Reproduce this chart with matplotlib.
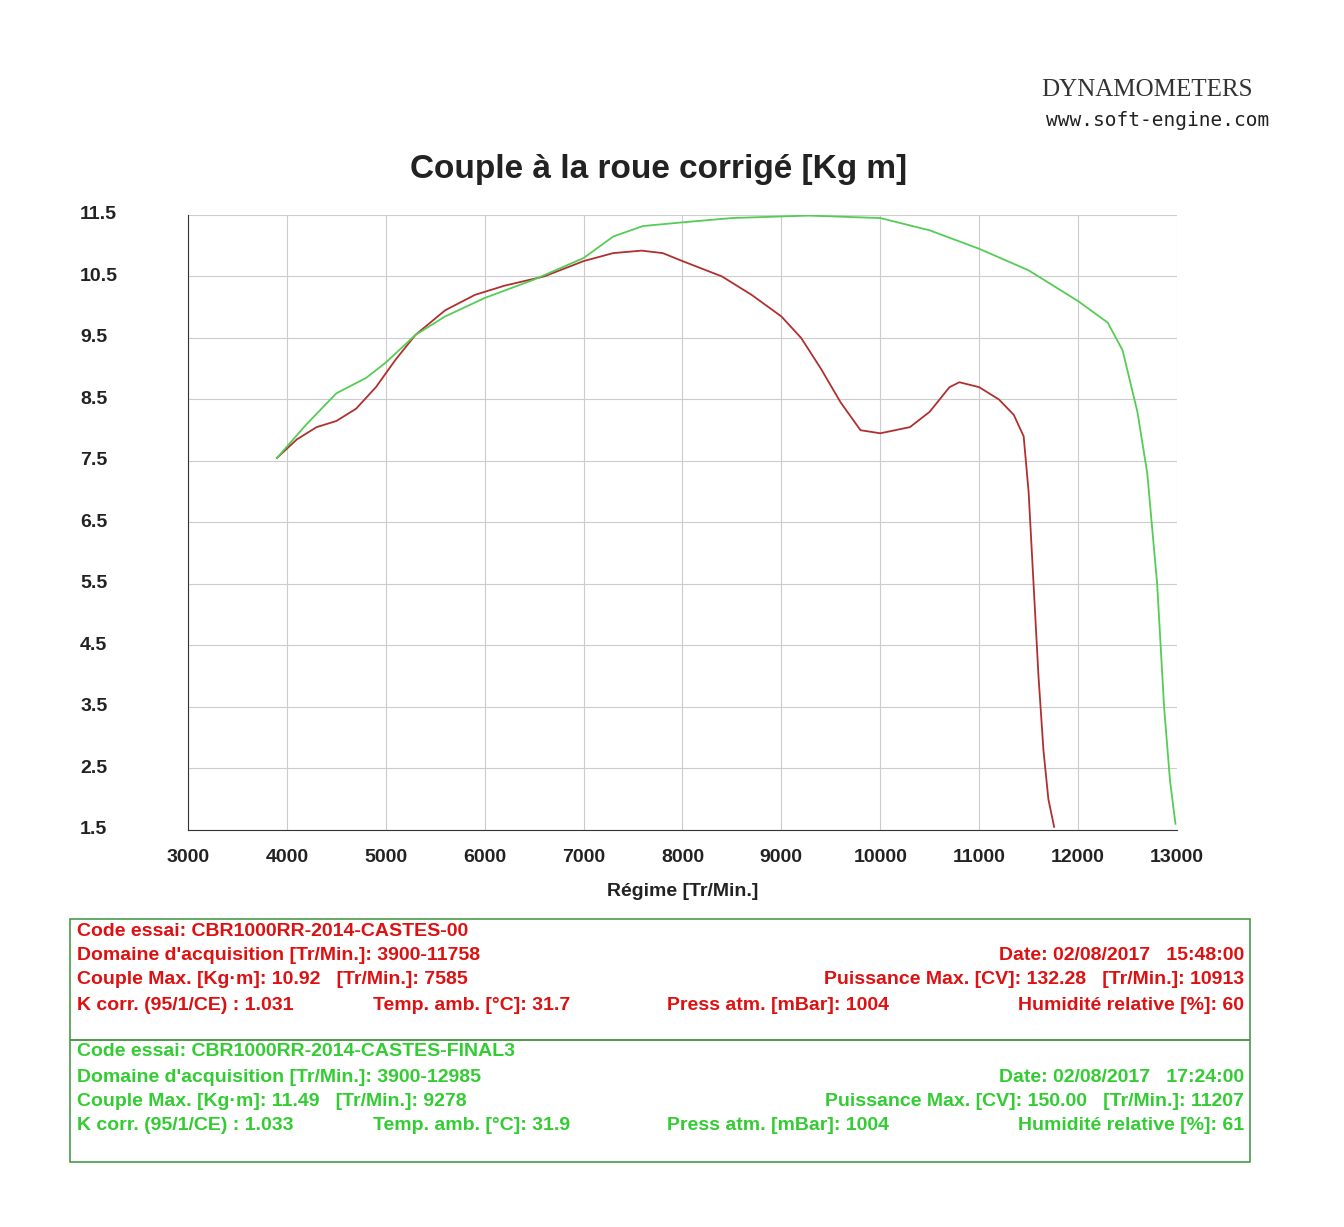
import matplotlib
matplotlib.use("Agg")
import matplotlib.pyplot as plt

red_rpm = [3900,4100,4300,4500,4700,4900,5100,5300,5600,5900,6200,6600,7000,7300,7585,7800,8000,8400,8700,9000,9200,9400,9600,9800,10000,10300,10500,10700,10800,11000,11200,11350,11450,11500,11550,11600,11650,11700,11758]
red_val = [7.55,7.85,8.05,8.15,8.35,8.7,9.15,9.55,9.95,10.2,10.35,10.5,10.75,10.88,10.92,10.88,10.75,10.5,10.2,9.85,9.5,9.0,8.45,8.0,7.95,8.05,8.3,8.7,8.78,8.7,8.5,8.25,7.9,7.0,5.5,4.0,2.8,2.0,1.55]
grn_rpm = [3900,4200,4500,4800,5000,5300,5600,6000,6500,7000,7300,7600,8000,8500,9278,10000,10500,11000,11500,12000,12300,12450,12600,12700,12800,12870,12930,12985]
grn_val = [7.55,8.1,8.6,8.85,9.1,9.55,9.85,10.15,10.45,10.8,11.15,11.32,11.38,11.45,11.49,11.45,11.25,10.95,10.6,10.1,9.75,9.3,8.3,7.3,5.5,3.5,2.3,1.6]
xticks = list(range(3000, 13001, 1000))
yticks = [1.5,2.5,3.5,4.5,5.5,6.5,7.5,8.5,9.5,10.5,11.5]

RED = "#dd1111"
GRN = "#33cc33"
plt.rcParams['font.family'] = ['Liberation Sans', 'DejaVu Sans']
fig = plt.figure(figsize=(13.44, 12.27), dpi=100)
ax = fig.add_axes([0.1399, 0.3236, 0.7358, 0.5012])
ax.plot(red_rpm, red_val, color="#b03030", lw=1.3)
ax.plot(grn_rpm, grn_val, color="#55cc55", lw=1.3)
ax.set_xlim(3000, 13000)
ax.set_ylim(1.5, 11.5)
ax.set_xticks(xticks)
ax.set_yticks(yticks)
ax.set_xticklabels([str(x) for x in xticks], fontsize=14, fontweight='bold', color='#222222')
ax.set_yticklabels([])
for y in yticks:
    ax.text(-0.109, y, str(y), transform=ax.get_yaxis_transform(), ha='left', va='center',
            fontsize=14, fontweight='bold', color='#222222')
ax.tick_params(length=0, pad=14)
ax.grid(color="#cccccc", lw=0.8)
for s in ['top', 'right']:
    ax.spines[s].set_visible(False)
ax.spines['left'].set_color('#333333')
ax.spines['bottom'].set_color('#333333')
ax.set_xlabel("Régime [Tr/Min.]", fontsize=14, fontweight='bold', labelpad=12, color='#222222')
fig.text(0.49, 0.855, "Couple à la roue corrigé [Kg m]", ha='center', fontsize=24, fontweight='bold', color='#222222')
fig.text(0.775, 0.922, "DYNAMOMETERS", fontsize=18, family='Liberation Serif', color='#333333')
fig.text(0.778, 0.897, "www.soft-engine.com", fontsize=14, family='DejaVu Sans Mono', color='#222222')

def box(y0, y1, color, lines):
    r = plt.Rectangle((70/1344, 1-y1/1227), 1180/1344, (y1-y0)/1227, transform=fig.transFigure,
                      fill=False, edgecolor='#4a9a4a', lw=1.2)
    fig.add_artist(r)
    for (x, y, t, ha) in lines:
        fig.text(x/1344, 1-y/1227, t, ha=ha, va='center', fontsize=14, fontweight='bold', color=color)

box(919, 1040, RED, [
    (77, 931, "Code essai: CBR1000RR-2014-CASTES-00", 'left'),
    (77, 955, "Domaine d'acquisition [Tr/Min.]: 3900-11758", 'left'),
    (1244, 955, "Date: 02/08/2017   15:48:00", 'right'),
    (77, 980, "Couple Max. [Kg·m]: 10.92   [Tr/Min.]: 7585", 'left'),
    (1244, 980, "Puissance Max. [CV]: 132.28   [Tr/Min.]: 10913", 'right'),
    (77, 1005, "K corr. (95/1/CE) : 1.031", 'left'),
    (373, 1005, "Temp. amb. [°C]: 31.7", 'left'),
    (667, 1005, "Press atm. [mBar]: 1004", 'left'),
    (1244, 1005, "Humidité relative [%]: 60", 'right'),
])
box(1040, 1162, GRN, [
    (77, 1052, "Code essai: CBR1000RR-2014-CASTES-FINAL3", 'left'),
    (77, 1077, "Domaine d'acquisition [Tr/Min.]: 3900-12985", 'left'),
    (1244, 1077, "Date: 02/08/2017   17:24:00", 'right'),
    (77, 1101, "Couple Max. [Kg·m]: 11.49   [Tr/Min.]: 9278", 'left'),
    (1244, 1101, "Puissance Max. [CV]: 150.00   [Tr/Min.]: 11207", 'right'),
    (77, 1126, "K corr. (95/1/CE) : 1.033", 'left'),
    (373, 1126, "Temp. amb. [°C]: 31.9", 'left'),
    (667, 1126, "Press atm. [mBar]: 1004", 'left'),
    (1244, 1126, "Humidité relative [%]: 61", 'right'),
])
fig.savefig("out.png", dpi=100)
